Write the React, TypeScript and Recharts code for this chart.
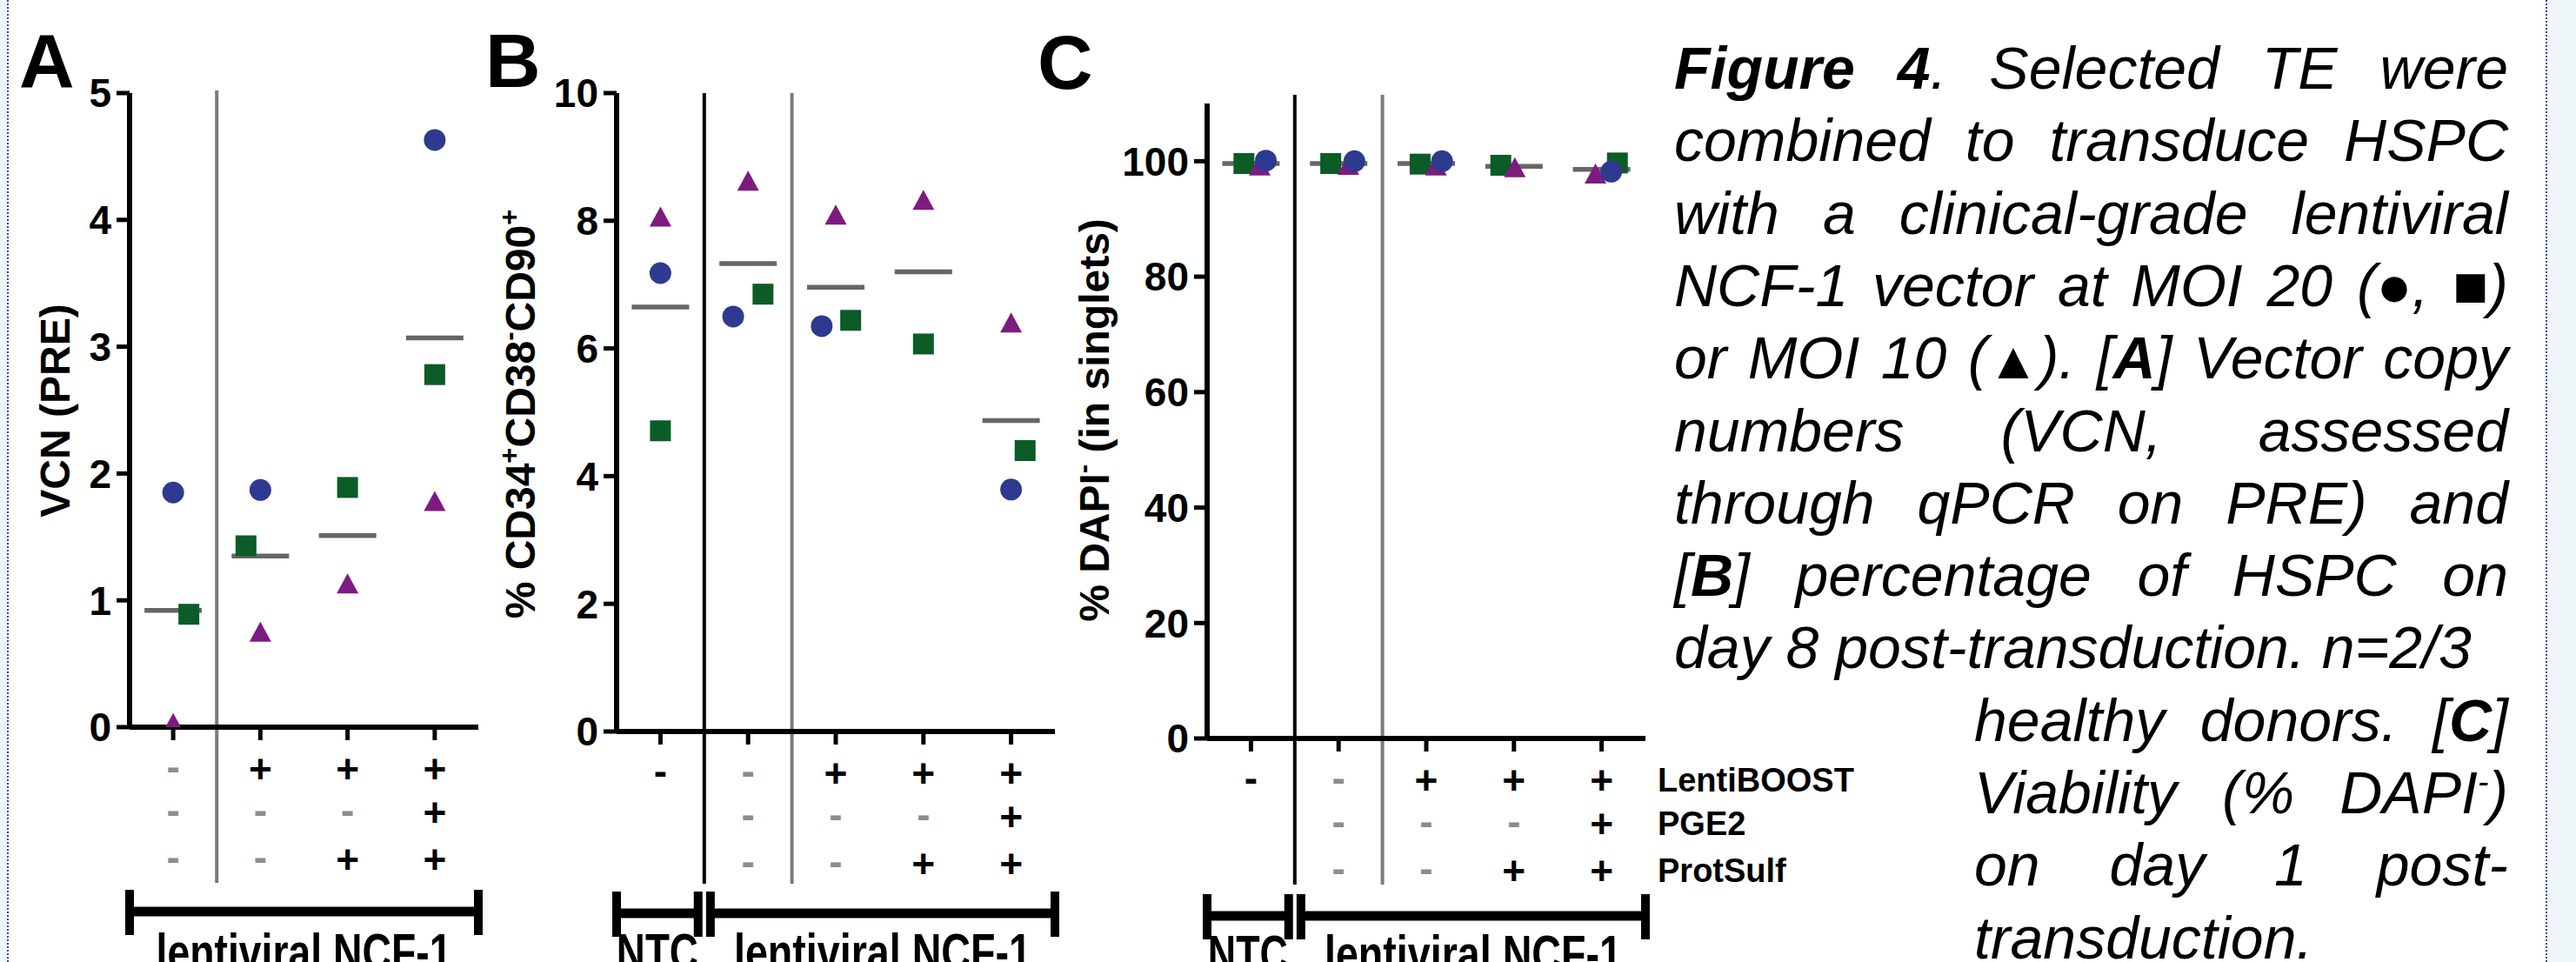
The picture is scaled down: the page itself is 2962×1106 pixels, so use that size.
import React from 'react'
import { ScatterChart, Scatter, XAxis, YAxis, ReferenceLine } from 'recharts'

const FONT = '"Liberation Sans", Arial, Helvetica, sans-serif'
const BLUE = '#2e3a8f'
const GREEN = '#0b5c27'
const PURPLE = '#7d1b80'
const MEAN = '#666666'
const GRAY_DIV = '#7a7a7a'
const GRAY_SIGN = '#8c8c8c'
const H = 1106

// ---- panel A: VCN (PRE)
const aCats = [1, 2, 3, 4]
const aCircle = [1.85, 1.87, null, 4.63]
const aSquare = [0.89, 1.43, 1.89, 2.78]
const aTriangle = [0.03, 0.75, 1.13, 1.78]
const aMean = [0.92, 1.35, 1.51, 3.07]
const aSquareX = [1.18, 1.835, 3, 4]
const aYTicks = [0, 1, 2, 3, 4, 5]
const aLenti = ['-', '+', '+', '+']
const aPge2 = ['-', '-', '-', '+']
const aProt = ['-', '-', '+', '+']

// ---- panel B: % CD34+CD38-CD90+
const bCats = [1, 2, 3, 4, 5]
const bCircle = [7.18, 6.5, 6.35, null, 3.79]
const bSquare = [4.71, 6.85, 6.44, 6.07, 4.4]
const bTriangle = [8.06, 8.62, 8.09, 8.32, 6.4]
const bMean = [6.65, 7.33, 6.96, 7.2, 4.87]
const bCircleX = [1, 1.83, 2.84, 4, 5]
const bSquareX = [1, 2.17, 3.17, 4, 5.16]
const bYTicks = [0, 2, 4, 6, 8, 10]
const bcLenti = ['-', '-', '+', '+', '+']
const bcPge2 = ['', '-', '-', '-', '+']
const bcProt = ['', '-', '-', '+', '+']

// ---- panel C: % DAPI- (in singlets)
const cCats = [1, 2, 3, 4, 5]
const cCircle = [100.1, 100.0, 100.0, null, 98.2]
const cSquare = [99.6, 99.6, 99.5, 99.3, 99.7]
const cTriangle = [99.2, 99.3, 99.2, 98.9, 97.8]
const cMean = [99.6, 99.6, 99.6, 99.1, 98.6]
const cCircleX = [1.17, 2.18, 3.18, 4, 5.11]
const cSquareX = [0.92, 1.91, 2.93, 3.85, 5.18]
const cTriangleX = [1.1, 2.11, 3.11, 4.01, 4.93]
const cYTicks = [0, 20, 40, 60, 80, 100]
const rowLabels = ['LentiBOOST', 'PGE2', 'ProtSulf']

const SIGN_OFFSETS = [48, 98, 152]

const pts = (xs: number[], ys: (number | null)[]) =>
  ys.map((y, i) => (y == null ? null : { x: xs[i], y })).filter(Boolean) as { x: number; y: number }[]

const CircleDot = (s: any) => <circle cx={s.cx} cy={s.cy} r={12.5} fill={BLUE} />
const SquareDot = (s: any) => <rect x={s.cx - 12} y={s.cy - 12} width={24} height={24} fill={GREEN} />
const TriDot = (s: any) => (
  <path d={`M${s.cx},${s.cy - 12}L${s.cx + 12.5},${s.cy + 11}L${s.cx - 12.5},${s.cy + 11}Z`} fill={PURPLE} />
)
const MeanBar = (s: any) => (
  <line x1={s.cx - 33} x2={s.cx + 33} y1={s.cy} y2={s.cy} stroke={MEAN} strokeWidth={5.5} />
)

type Bracket = { from: number; to: number; label: string; labelWidth: number }

type PanelProps = {
  left: number
  width: number
  plotLeft: number
  plotRight: number
  plotTop: number
  axisY: number
  xDomain: [number, number]
  yDomain: [number, number]
  yTicks: number[]
  cats: number[]
  circle: { x: number; y: number }[]
  square: { x: number; y: number }[]
  triangle: { x: number; y: number }[]
  mean: { x: number; y: number }[]
  dividers: { x: number; color: string }[]
  divTop: number
  divBottom: number
  brackets: Bracket[]
  bracketY: number
  labelBase: number
  signs: string[][]
  ntc: boolean
  rowLabelX?: number
}

const Panel: React.FC<PanelProps> = (p) => {
  const SignTick = (t: any) => {
    const i = p.cats.indexOf(t.payload.value)
    return (
      <g>
        {p.signs.map((row, r) => {
          const s = row[i]
          if (!s) return null
          const black = s === '+' || (p.ntc && i === 0)
          return (
            <text
              key={r}
              x={t.x}
              y={p.axisY + SIGN_OFFSETS[r] + (s === '-' ? -3 : 0)}
              textAnchor="middle"
              dominantBaseline="central"
              fontSize={46}
              fontWeight={700}
              fontFamily={FONT}
              fill={black ? '#000' : GRAY_SIGN}
            >
              {s}
            </text>
          )
        })}
        {p.rowLabelX != null && i === p.cats.length - 1
          ? rowLabels.map((l, r) => (
              <text
                key={'l' + r}
                x={p.rowLabelX}
                y={p.axisY + SIGN_OFFSETS[r]}
                dominantBaseline="central"
                fontSize={38}
                fontWeight={700}
                fontFamily={FONT}
                fill="#000"
              >
                {l}
              </text>
            ))
          : null}
      </g>
    )
  }

  return (
    <div style={{ position: 'absolute', left: p.left, top: 0, width: p.width, height: H }}>
      <ScatterChart
        width={p.width}
        height={H}
        margin={{ top: p.plotTop, right: p.width - p.plotRight, bottom: 0, left: 0 }}
      >
        <XAxis
          type="number"
          dataKey="x"
          domain={p.xDomain}
          ticks={p.cats}
          interval={0}
          allowDataOverflow
          height={H - p.axisY}
          axisLine={{ stroke: '#000', strokeWidth: 6 }}
          tickLine={{ stroke: '#000', strokeWidth: 5 }}
          tickSize={15}
          tick={(t: any) => <SignTick {...t} />}
        />
        <YAxis
          type="number"
          dataKey="y"
          domain={p.yDomain}
          ticks={p.yTicks}
          interval={0}
          allowDataOverflow
          width={p.plotLeft}
          axisLine={{ stroke: '#000', strokeWidth: 6 }}
          tickLine={{ stroke: '#000', strokeWidth: 5 }}
          tickSize={15}
          tickMargin={6}
          tick={{ fill: '#000', fontSize: 46, fontWeight: 700, fontFamily: FONT }}
        />
        {p.dividers.map((d, k) => (
          <ReferenceLine
            key={'d' + k}
            x={d.x}
            ifOverflow="visible"
            shape={(s: any) => (
              <line x1={s.x1} x2={s.x1} y1={p.divTop} y2={p.divBottom} stroke={d.color} strokeWidth={4} />
            )}
          />
        ))}
        {p.brackets.map((b, k) => (
          <ReferenceLine
            key={'b' + k}
            segment={[
              { x: b.from, y: p.yDomain[0] },
              { x: b.to, y: p.yDomain[0] },
            ]}
            ifOverflow="visible"
            shape={(s: any) => (
              <g>
                <rect x={s.x1} y={p.bracketY - 5.5} width={s.x2 - s.x1} height={11} fill="#000" />
                <rect x={s.x1 - 5} y={p.bracketY - 25} width={10} height={52} fill="#000" />
                <rect x={s.x2 - 5} y={p.bracketY - 25} width={10} height={52} fill="#000" />
                <text
                  x={(s.x1 + s.x2) / 2}
                  y={p.labelBase}
                  textAnchor="middle"
                  fontSize={60}
                  fontWeight={700}
                  fontFamily={FONT}
                  textLength={b.labelWidth}
                  lengthAdjust="spacingAndGlyphs"
                  fill="#000"
                >
                  {b.label}
                </text>
              </g>
            )}
          />
        ))}
        <Scatter data={p.mean} shape={MeanBar} isAnimationActive={false} />
        <Scatter data={p.square} shape={SquareDot} isAnimationActive={false} />
        <Scatter data={p.triangle} shape={TriDot} isAnimationActive={false} />
        <Scatter data={p.circle} shape={CircleDot} isAnimationActive={false} />
      </ScatterChart>
    </div>
  )
}

const captionLines: { words: React.ReactNode[]; justify: boolean; indent: boolean }[] = [
  {
    words: [
      <b key="f">Figure</b>,
      <span key="4">
        <b>4</b>.
      </span>,
      'Selected',
      'TE',
      'were',
    ],
    justify: true,
    indent: false,
  },
  { words: ['combined', 'to', 'transduce', 'HSPC'], justify: true, indent: false },
  { words: ['with', 'a', 'clinical-grade', 'lentiviral'], justify: true, indent: false },
  { words: ['NCF-1', 'vector', 'at', 'MOI', '20', '(●,', '■)'], justify: true, indent: false },
  {
    words: [
      'or',
      'MOI',
      '10',
      <span key="t">
        (<span style={{ fontStyle: 'normal', fontSize: 60 }}>▲</span>).
      </span>,
      <span key="a">
        [<b>A</b>]
      </span>,
      'Vector',
      'copy',
    ],
    justify: true,
    indent: false,
  },
  { words: ['numbers', '(VCN,', 'assessed'], justify: true, indent: false },
  { words: ['through', 'qPCR', 'on', 'PRE)', 'and'], justify: true, indent: false },
  {
    words: [
      <span key="b">
        [<b>B</b>]
      </span>,
      'percentage',
      'of',
      'HSPC',
      'on',
    ],
    justify: true,
    indent: false,
  },
  { words: ['day 8 post-transduction. n=2/3'], justify: false, indent: false },
  {
    words: [
      'healthy',
      'donors.',
      <span key="c">
        [<b>C</b>]
      </span>,
    ],
    justify: true,
    indent: true,
  },
  {
    words: [
      'Viability',
      '(%',
      <span key="d">
        DAPI<sup style={{ fontSize: '0.55em', lineHeight: 0 }}>-</sup>)
      </span>,
    ],
    justify: true,
    indent: true,
  },
  { words: ['on', 'day', '1', 'post-'], justify: true, indent: true },
  { words: ['transduction.'], justify: false, indent: true },
]

const CAP_LEFT = 1925
const CAP_RIGHT = 2884
const CAP_INDENT = 345
const CAP_TOP = 37
const CAP_LINE = 83.3
const CAP_FONT = 68

const Caption = () => (
  <>
    {captionLines.map((l, i) => (
      <div
        key={i}
        style={{
          position: 'absolute',
          left: CAP_LEFT + (l.indent ? CAP_INDENT : 0),
          top: CAP_TOP + i * CAP_LINE,
          width: CAP_RIGHT - CAP_LEFT - (l.indent ? CAP_INDENT : 0),
          height: CAP_LINE,
          lineHeight: `${CAP_LINE}px`,
          display: 'flex',
          alignItems: 'baseline',
          justifyContent: l.justify ? 'space-between' : 'flex-start',
          fontSize: CAP_FONT,
          fontStyle: 'italic',
          fontFamily: FONT,
          whiteSpace: 'pre',
          color: '#000',
        }}
      >
        {l.words.map((w, k) => (
          <span key={k}>{w}</span>
        ))}
      </div>
    ))}
  </>
)

const Overlay = () => (
  <svg
    width={2962}
    height={H}
    style={{ position: 'absolute', left: 0, top: 0, pointerEvents: 'none' }}
    fontFamily={FONT}
    fontWeight={700}
  >
    <text x={22} y={100} fontSize={88}>A</text>
    <text x={558} y={100} fontSize={88}>B</text>
    <text x={1193} y={102} fontSize={88}>C</text>
    <text transform="translate(80,472) rotate(-90)" textAnchor="middle" fontSize={48}>
      VCN (PRE)
    </text>
    <text transform="translate(615,476) rotate(-90)" textAnchor="middle" fontSize={48}>
      % CD34
      <tspan dy={-19} fontSize={31}>+</tspan>
      <tspan dy={19}>CD38</tspan>
      <tspan dy={-19} fontSize={31}>-</tspan>
      <tspan dy={19}>CD90</tspan>
      <tspan dy={-19} fontSize={31}>+</tspan>
    </text>
    <text transform="translate(1275,483) rotate(-90)" textAnchor="middle" fontSize={48}>
      % DAPI
      <tspan dy={-19} fontSize={31}>-</tspan>
      <tspan dy={19}> (in singlets)</tspan>
    </text>
  </svg>
)

export default function App() {
  const ntcBrackets = (w1: number, w2: number): Bracket[] => [
    { from: 0.5, to: 1.43, label: 'NTC', labelWidth: w1 },
    { from: 1.57, to: 5.5, label: 'lentiviral NCF-1', labelWidth: w2 },
  ]
  return (
    <div
      style={{
        position: 'absolute',
        left: 0,
        top: 0,
        width: 2962,
        height: H,
        overflow: 'hidden',
        background: '#eef6fa',
        fontFamily: FONT,
      }}
    >
      <div
        style={{
          position: 'absolute',
          left: 8,
          top: 0,
          width: 2921,
          height: H,
          background: '#fff',
          borderLeft: '2px dotted #3d4a99',
          borderRight: '2px dotted #3d4a99',
          boxSizing: 'border-box',
        }}
      />
      <Panel
        left={0}
        width={600}
        plotLeft={149}
        plotRight={550}
        plotTop={107}
        axisY={836}
        xDomain={[0.5, 4.5]}
        yDomain={[0, 5]}
        yTicks={aYTicks}
        cats={aCats}
        circle={pts(aCats, aCircle)}
        square={pts(aSquareX, aSquare)}
        triangle={pts(aCats, aTriangle)}
        mean={pts(aCats, aMean)}
        dividers={[{ x: 1.5, color: GRAY_DIV }]}
        divTop={104}
        divBottom={1015}
        brackets={[{ from: 0.5, to: 4.5, label: 'lentiviral NCF-1', labelWidth: 340 }]}
        bracketY={1048}
        labelBase={1115}
        signs={[aLenti, aPge2, aProt]}
        ntc={false}
      />
      <Panel
        left={520}
        width={720}
        plotLeft={189}
        plotRight={693}
        plotTop={107}
        axisY={841}
        xDomain={[0.5, 5.5]}
        yDomain={[0, 10]}
        yTicks={bYTicks}
        cats={bCats}
        circle={pts(bCircleX, bCircle)}
        square={pts(bSquareX, bSquare)}
        triangle={pts(bCats, bTriangle)}
        mean={pts(bCats, bMean)}
        dividers={[
          { x: 1.5, color: '#000' },
          { x: 2.5, color: GRAY_DIV },
        ]}
        divTop={107}
        divBottom={1016}
        brackets={ntcBrackets(94, 342)}
        bracketY={1050}
        labelBase={1115}
        signs={[bcLenti, bcPge2, bcProt]}
        ntc={true}
      />
      <Panel
        left={1180}
        width={1000}
        plotLeft={208}
        plotRight={712}
        plotTop={119}
        axisY={849}
        xDomain={[0.5, 5.5]}
        yDomain={[0, 110]}
        yTicks={cYTicks}
        cats={cCats}
        circle={pts(cCircleX, cCircle)}
        square={pts(cSquareX, cSquare)}
        triangle={pts(cTriangleX, cTriangle)}
        mean={pts(cCats, cMean)}
        dividers={[
          { x: 1.5, color: '#000' },
          { x: 2.5, color: GRAY_DIV },
        ]}
        divTop={109}
        divBottom={1017}
        brackets={ntcBrackets(92, 342)}
        bracketY={1053}
        labelBase={1117}
        signs={[bcLenti, bcPge2, bcProt]}
        ntc={true}
        rowLabelX={726}
      />
      <Overlay />
      <Caption />
    </div>
  )
}
